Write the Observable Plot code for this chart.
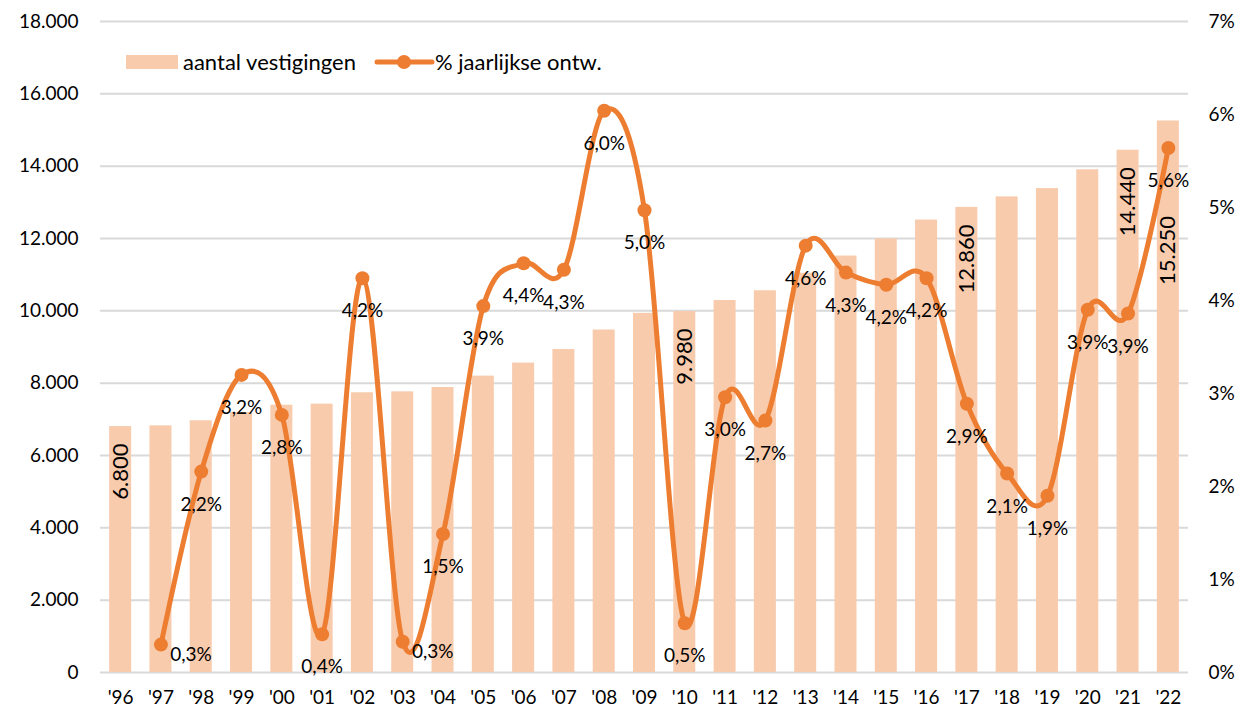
<!DOCTYPE html>
<html>
<head>
<meta charset="utf-8">
<script src="https://cdn.jsdelivr.net/npm/d3@7"></script>
<script src="https://cdn.jsdelivr.net/npm/@observablehq/plot@0.6"></script>
<style>
  body { margin: 0; background: #fff; }
  #chart svg { display: block; }
</style>
</head>
<body>
<div id="chart"></div>
<script>
// ---- data ----
const years = ["'96","'97","'98","'99","'00","'01","'02","'03","'04","'05","'06","'07","'08","'09","'10","'11","'12","'13","'14","'15","'16","'17","'18","'19","'20","'21","'22"];
const vestigingen = [6800, 6820, 6960, 7190, 7390, 7420, 7735, 7760, 7880, 8195, 8555, 8930, 9470, 9930, 9980, 10285, 10555, 11040, 11515, 11990, 12510, 12860, 13150, 13380, 13900, 14440, 15250];
const pctYears = years.slice(1);
const pctValues = [0.30, 2.16, 3.20, 2.77, 0.41, 4.24, 0.33, 1.49, 3.94, 4.40, 4.33, 6.04, 4.97, 0.53, 2.96, 2.71, 4.59, 4.30, 4.17, 4.24, 2.89, 2.14, 1.90, 3.90, 3.86, 5.64];
const labeledBarYears = ["'96", "'10", "'17", "'21", "'22"];
const leftTicks = [0, 2000, 4000, 6000, 8000, 10000, 12000, 14000, 16000, 18000];
const rightTicks = [0, 1, 2, 3, 4, 5, 6, 7];
const seriesNames = ["aantal vestigingen", "% jaarlijkse ontw."];

// ---- derived ----
const K = 18000 / 7;
const nl = d3.formatLocale({decimal: ",", thousands: ".", grouping: [3], currency: ["€", ""]});
const fmt = nl.format(",d");
const pctFmt = v => v.toFixed(1).replace(".", ",") + "%";
const bars = years.map((y, i) => ({year: y, value: vestigingen[i]}));
const pts = pctYears.map((y, i) => ({year: y, pct: pctValues[i], v: pctValues[i] * K}));
const barLabels = bars.filter(d => labeledBarYears.includes(d.year));

const BAR = "#F8CBAD", LINE = "#ED7D31";

const svg = Plot.plot({
  width: 1248,
  height: 715,
  marginLeft: 100,
  marginRight: 60,
  marginTop: 21,
  marginBottom: 43,
  style: {fontFamily: "Lato, sans-serif", fontSize: "18px", color: "#000", background: "#fff"},
  x: {domain: years, paddingInner: 0.454, paddingOuter: 0.227, round: false, label: null},
  y: {domain: [0, 18000], label: null},
  marks: [
    Plot.gridY(leftTicks, {stroke: "#d9d9d9", strokeOpacity: 1, strokeWidth: 2}),
    Plot.axisY(leftTicks, {anchor: "left", tickSize: 0, tickPadding: 22, tickFormat: fmt, label: null, fontSize: 19}),
    Plot.axisY(rightTicks.map(p => p * K), {anchor: "right", tickSize: 0, tickPadding: 20, tickFormat: d => Math.round(d / K) + "%", label: null, fontSize: 19}),
    Plot.axisX({tickSize: 0, tickPadding: 18, label: null, fontSize: 19}),
    Plot.barY(bars, {x: "year", y: "value", fill: BAR}),
    Plot.text(barLabels.filter(d => d.year !== "'22"), {x: "year", y: "value", text: d => fmt(d.value), rotate: -90, textAnchor: "end", dy: 17, fontSize: 22, fill: "#000"}),
    Plot.text(barLabels.filter(d => d.year === "'22"), {x: "year", y: "value", text: d => fmt(d.value), rotate: -90, textAnchor: "end", dy: 95, fontSize: 22, fill: "#000"}),
    Plot.line(pts, {x: "year", y: "v", stroke: LINE, strokeWidth: 5, curve: "cardinal"}),
    Plot.dot(pts, {x: "year", y: "v", r: 7, fill: LINE}),
    Plot.text(pts.filter(d => d.pct >= 0.35), {x: "year", y: "v", text: d => pctFmt(d.pct), dy: 33, fontSize: 19, fill: "#000"}),
    Plot.text(pts.filter(d => d.pct < 0.35), {x: "year", y: "v", text: d => pctFmt(d.pct), dx: 30, dy: 10, fontSize: 19, fill: "#000"})
  ]
});

// legend inside the plot area
const g = d3.select(svg).append("g")
  .attr("font-family", "Lato, sans-serif")
  .attr("font-size", 22)
  .attr("text-anchor", "start");
g.append("rect").attr("x", 126).attr("y", 55).attr("width", 52).attr("height", 14).attr("fill", BAR);
g.append("text").attr("x", 183).attr("y", 62).attr("dy", "0.35em").attr("fill", "#000").text(seriesNames[0]);
g.append("line").attr("x1", 377).attr("x2", 432).attr("y1", 62).attr("y2", 62).attr("stroke", LINE).attr("stroke-width", 5).attr("stroke-linecap", "round");
g.append("circle").attr("cx", 404).attr("cy", 62).attr("r", 7).attr("fill", LINE);
g.append("text").attr("x", 435).attr("y", 62).attr("dy", "0.35em").attr("fill", "#000").text(seriesNames[1]);

document.getElementById("chart").appendChild(svg);
</script>
</body>
</html>
